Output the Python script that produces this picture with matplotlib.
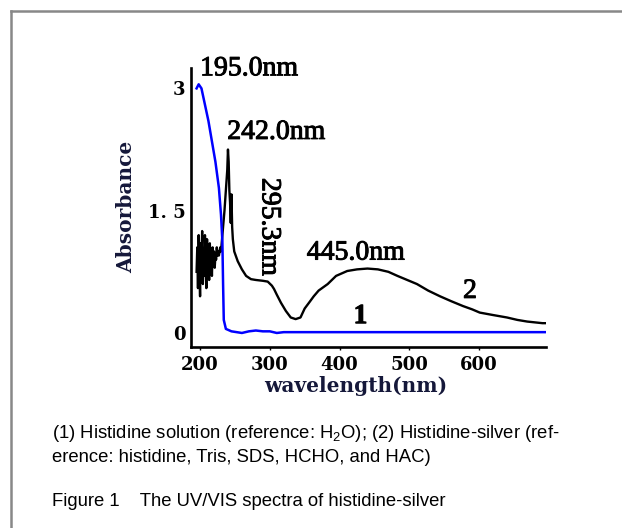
import matplotlib
matplotlib.use('Agg')
import matplotlib.pyplot as plt
import matplotlib.patheffects as pe
from matplotlib.lines import Line2D

plt.rcParams['mathtext.fontset'] = 'custom'
plt.rcParams['mathtext.rm'] = 'Liberation Sans'

# curve 1: histidine solution
wl1 = [195, 198, 202, 207, 212, 217, 222, 227, 230, 232, 233, 234, 237, 245,
       260, 270, 280, 290, 300, 310, 320, 400, 500, 600, 695]
abs1 = [3.0, 3.05, 3.0, 2.8, 2.6, 2.35, 2.1, 1.78, 1.45, 1.12, 0.6, 0.16, 0.05, 0.02,
        0.0, 0.02, 0.03, 0.02, 0.02, 0.0, 0.01, 0.01, 0.01, 0.01, 0.01]

# curve 2: histidine-silver
wl2 = [195, 196, 197, 198, 199, 200, 201, 202, 203, 204, 205, 206, 207, 208, 209,
       210, 211, 212, 213, 214, 215, 216, 217, 218, 219, 220, 221, 222, 223, 224,
       225, 226, 227, 228, 229, 230, 231, 233, 235, 237, 239, 240, 241, 242, 243,
       244, 245, 246, 247, 249, 254, 260, 266, 273, 280, 290, 297, 303, 306, 310,
       316, 323, 330, 337, 344, 350, 357, 363, 370, 383, 395, 411, 425, 440, 455,
       470, 483, 497, 511, 527, 544, 560, 577, 590, 601, 620, 640, 655, 669, 680,
       691, 698]
abs2 = [0.75, 1.05, 0.55, 1.2, 0.8, 0.45, 1.1, 0.9, 1.25, 0.6, 1.0, 0.7, 1.2, 0.85, 0.55,
        1.15, 0.75, 1.0, 0.65, 1.1, 0.8, 0.95, 0.7, 1.05, 0.85, 1.0, 0.8, 0.95, 0.9, 1.05,
        0.95, 1.0, 0.95, 1.0, 1.05, 1.0, 1.1, 1.3, 1.5, 1.75, 2.0, 2.25, 2.1, 1.75, 1.6,
        1.35, 1.7, 1.3, 1.15, 1.0, 0.88, 0.78, 0.7, 0.66, 0.65, 0.64, 0.63, 0.58, 0.54, 0.47,
        0.37, 0.27, 0.19, 0.17, 0.19, 0.3, 0.38, 0.45, 0.52, 0.6, 0.7, 0.76, 0.78, 0.79, 0.78,
        0.75, 0.7, 0.65, 0.6, 0.52, 0.45, 0.39, 0.33, 0.29, 0.25, 0.22, 0.19, 0.16, 0.14, 0.13,
        0.12, 0.12]

xticks = [200, 300, 400, 500, 600]
yticks = [0, 1.5, 3]
ytick_labels = ['0', '1. 5', '3']

peak_labels = ['195.0nm', '242.0nm', '445.0nm']
peak_pos = [(200, 3.24), (239, 2.46), (353, 0.98)]

caption1 = r'(1) Histidine solution (reference: H$_\mathrm{2}$O); (2) Histidine-silver (ref-'
caption2 = 'erence: histidine, Tris, SDS, HCHO, and HAC)'
caption3 = 'Figure 1    The UV/VIS spectra of histidine-silver'

W, H = 622, 528
fig = plt.figure(figsize=(W / 100, H / 100), dpi=100)
ax = fig.add_axes([191 / W, (H - 346.5) / H, (546 - 191) / W, (346.5 - 68) / H])

ax.plot(wl2, abs2, color='black', lw=1.7)
ax.plot(wl1, abs1, color='#0000ff', lw=1.8)

ax.set_xlim(187, 696)
ax.set_ylim(-0.166, 3.25)
for s in ['top', 'right']:
    ax.spines[s].set_visible(False)
for s in ['left', 'bottom']:
    ax.spines[s].set_linewidth(1.9)

tickfont = dict(family='DejaVu Serif', weight='bold', size=13)
ax.set_xticks(xticks)
ax.set_xticklabels([str(t) for t in xticks], fontdict=tickfont)
ax.set_yticks(yticks)
ax.set_yticklabels(ytick_labels, fontdict=tickfont)
ax.tick_params(axis='x', length=2, width=1, pad=5)
ax.tick_params(axis='y', length=0, pad=4)

# slightly heavier than regular, like the scanned labels
thick = [pe.withStroke(linewidth=0.7, foreground='black')]
annfont = dict(family='Liberation Serif', size=20, path_effects=thick)
for lab, (x, y) in zip(peak_labels, peak_pos):
    ax.text(x, y, lab, ha='left', va='center', clip_on=False, **annfont)
ax.text(299, 1.3, '295.3nm', rotation=-90, ha='center', va='center', **annfont)
ax.text(587, 0.51, '2', ha='center', va='center', **annfont)
ax.text(430, 0.2, '1', ha='center', va='center', weight='bold', **annfont)

labfont = dict(family='DejaVu Serif', weight='bold', size=14.5, color='#15183a')
fig.text(356 / W, 1 - 386 / H, 'wavelength(nm)', ha='center', va='center', **labfont)
fig.text(126 / W, 1 - 207 / H, 'Absorbance', rotation=90, ha='center', va='center', **labfont)

capfont = dict(family='Liberation Sans', size=13.3)
fig.text(52 / W, 1 - 433 / H, caption1, ha='left', va='center', **capfont)
fig.text(52 / W, 1 - 457 / H, caption2, ha='left', va='center', **capfont)
fig.text(52 / W, 1 - 502 / H, caption3, ha='left', va='center', **capfont)

# grey frame (top and left edges)
fig.add_artist(Line2D([10.5 / W, 1], [1 - 11 / H, 1 - 11 / H], color='#888888', lw=1.8))
fig.add_artist(Line2D([10.5 / W, 10.5 / W], [0, 1 - 11 / H], color='#888888', lw=1.8))

fig.savefig('out.png', dpi=100)
